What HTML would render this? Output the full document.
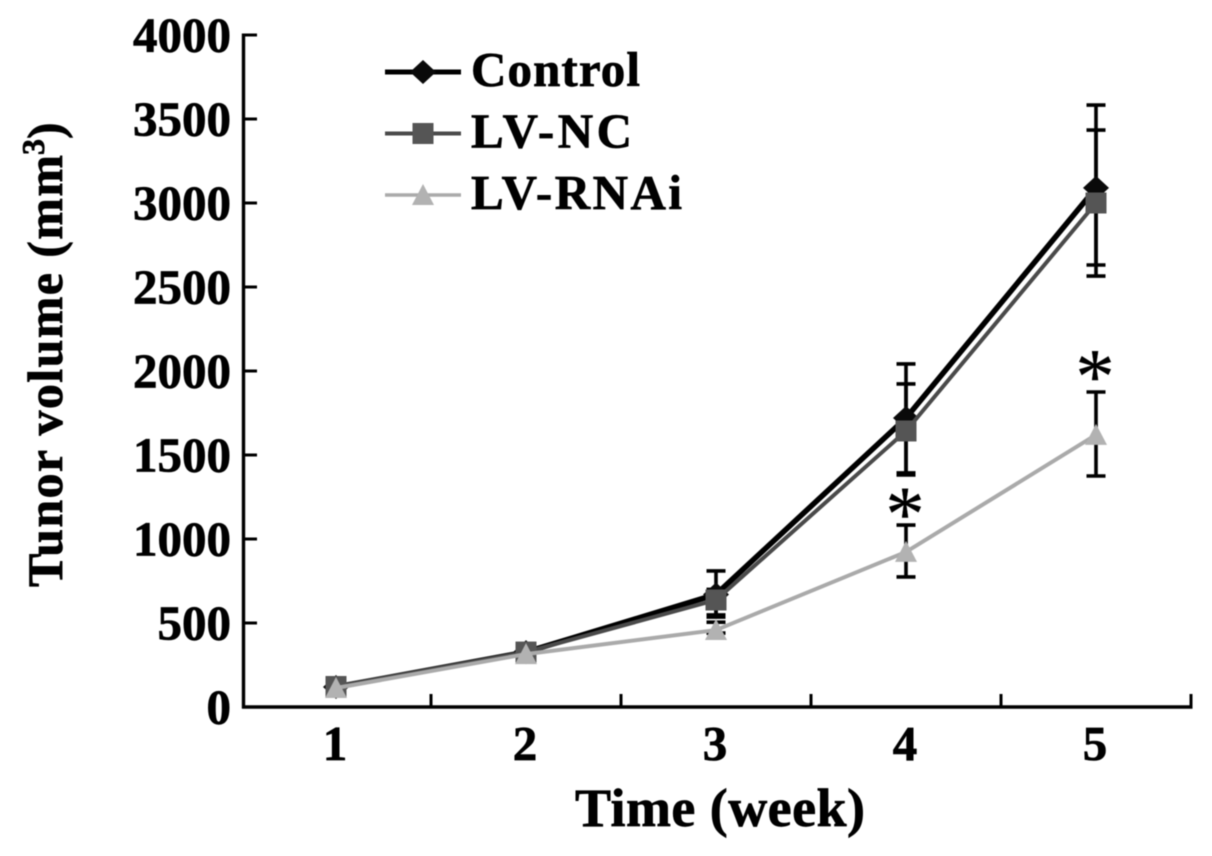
<!DOCTYPE html>
<html lang="en">
<head>
<meta charset="utf-8">
<title>Tumor volume chart</title>
<style>
html,body{margin:0;padding:0;background:#fff;}
svg{display:block;filter:blur(0.4px);}
text{font-family:"Liberation Serif",serif;font-weight:bold;fill:#000;stroke:#000;stroke-width:0.7;}
</style>
</head>
<body>
<svg id="chart" width="1212" height="856" viewBox="0 0 1212 856" xmlns="http://www.w3.org/2000/svg">
<rect width="1212" height="856" fill="#fff"/>
<g id="errors"></g>
<g id="axes"></g>
<g id="series"></g>
<g id="labels"></g>
<g id="legend"></g>
<text x="575" y="826" font-size="54" textLength="290" lengthAdjust="spacing">Time (week)</text>
<text transform="translate(62,587) rotate(-90)" font-size="50" textLength="432" lengthAdjust="spacing">Tunor volume (mm</text>
<text transform="translate(44,155) rotate(-90)" font-size="32">3</text>
<text transform="translate(62,139) rotate(-90)" font-size="50">)</text>
</svg>
<script>
const categories = ['1', '2', '3', '4', '5'];
const yTicks = [0, 500, 1000, 1500, 2000, 2500, 3000, 3500, 4000];

const controlValues = [119, 327, 670, 1720, 3090];
const ncValues = [122, 327, 637, 1643, 3000];
const rnaiValues = [113, 315, 458, 923, 1620];

const controlUpper = [119, 327, 810, 2042, 3583];
const controlLower = [119, 327, 548, 1381, 2565];
const ncUpper = [122, 327, 700, 1923, 3434];
const ncLower = [122, 327, 535, 1393, 2631];
const rnaiUpper = [113, 315, 505, 1083, 1875];
const rnaiLower = [113, 315, 440, 774, 1375];

const significantWeeks = ['4', '5'];
const significantLevels = [1190, 2010];

const legendLabels = ['Control', 'LV-NC', 'LV-RNAi'];

const NS = 'http://www.w3.org/2000/svg';
function xScale(i) { return 336 + 190 * i; }
function yScale(v) { return 707 - v * 0.168; }
function make(parent, tag, attrs) {
  const el = document.createElementNS(NS, tag);
  for (const k in attrs) el.setAttribute(k, attrs[k]);
  parent.appendChild(el);
  return el;
}
const axes = document.getElementById('axes');
const labels = document.getElementById('labels');
const seriesG = document.getElementById('series');
const errors = document.getElementById('errors');
const legend = document.getElementById('legend');

const yAxis = make(axes, 'line', {x1: 243.5, x2: 243.5, y1: yScale(4000) - 1.5, y2: yScale(0) + 1.5, stroke: '#000', 'stroke-width': 3.4});


const xAxis = make(axes, 'line', {x1: 242, x2: xScale(4.5) + 1.5, y1: yScale(0), y2: yScale(0), stroke: '#000', 'stroke-width': 3.4});



yTicks.forEach(function (t) {
  const tick = make(axes, 'line', {x1: 243.5, x2: 257, y1: yScale(t), y2: yScale(t), stroke: '#000', 'stroke-width': 3});
  
  
  const lab = make(labels, 'text', {x: 231, y: yScale(t) + 16.5, 'text-anchor': 'end', 'font-size': 49});
  
  
  lab.textContent = t;
});

categories.forEach(function (c, i) {
  const tick = make(axes, 'line', {x1: xScale(i + 0.5), x2: xScale(i + 0.5), y1: yScale(0), y2: yScale(0) - 13, stroke: '#000', 'stroke-width': 3});
  
  
  const lab = make(labels, 'text', {x: xScale(i) - 1, y: 760, 'text-anchor': 'middle', 'font-size': 49});
  
  
  lab.textContent = c;
});

function drawErrors(upper, lower, name) {
  categories.forEach(function (c, i) {
    if (upper[i] === lower[i]) return;
    const x = xScale(i);
    const bar = make(errors, 'path', {
      d: 'M' + x + ' ' + yScale(upper[i]) + 'V' + yScale(lower[i]) +
         'M' + (x - 9.5) + ' ' + yScale(upper[i]) + 'H' + (x + 9.5) +
         'M' + (x - 9.5) + ' ' + yScale(lower[i]) + 'H' + (x + 9.5),
      stroke: '#000', 'stroke-width': 3.6, fill: 'none'
    });
    
    
  });
}
drawErrors(controlUpper, controlLower, 'control');
drawErrors(ncUpper, ncLower, 'lv-nc');
drawErrors(rnaiUpper, rnaiLower, 'lv-rnai');

function marker(parent, kind, x, y, color) {
  if (kind === 'diamond') {
    return make(parent, 'polygon', {points: (x - 13) + ',' + y + ' ' + x + ',' + (y - 12) + ' ' + (x + 13) + ',' + y + ' ' + x + ',' + (y + 12), fill: color});
  }
  if (kind === 'square') {
    return make(parent, 'rect', {x: x - 10.5, y: y - 10.5, width: 21, height: 21, fill: color});
  }
  return make(parent, 'polygon', {points: (x - 11) + ',' + (y + 10) + ' ' + x + ',' + (y - 11) + ' ' + (x + 11) + ',' + (y + 10), fill: color});
}

function drawSeries(values, kind, lineColor, markerColor, width, name) {
  const pts = values.map(function (v, i) { return xScale(i) + ',' + yScale(v); }).join(' ');
  const line = make(seriesG, 'polyline', {points: pts, fill: 'none', stroke: lineColor, 'stroke-width': width, 'stroke-linejoin': 'round'});
  
  
  values.forEach(function (v, i) {
    const m = marker(seriesG, kind, xScale(i), yScale(v), markerColor);
    
    
  });
}
drawSeries(controlValues, 'diamond', '#000', '#0a0a0a', 5.5, 'control');
drawSeries(ncValues, 'square', '#4a4a4a', '#555', 4, 'lv-nc');
drawSeries(rnaiValues, 'triangle', '#aaa', '#b2b2b2', 4, 'lv-rnai');

significantWeeks.forEach(function (w, n) {
  const star = make(labels, 'text', {x: xScale(categories.indexOf(w)) - 1, y: yScale(significantLevels[n]) + 33, 'text-anchor': 'middle', 'font-size': 78, style: 'font-weight:normal;stroke-width:0.4'});
  
  
  star.textContent = '*';
});

const legendKinds = ['diamond', 'square', 'triangle'];
const legendColors = ['#000', '#4a4a4a', '#aaa'];
const legendMarks = ['#0a0a0a', '#555', '#b2b2b2'];
const legendWidths = [5, 4, 3.6];
const legendLengths = [169, 161, 211];
legendLabels.forEach(function (name, i) {
  const y = 72 + i * 61.5;
  const ln = make(legend, 'line', {x1: 385, x2: 461, y1: y, y2: y, stroke: legendColors[i], 'stroke-width': legendWidths[i]});
  
  
  const m = marker(legend, legendKinds[i], 423, y, legendMarks[i]);
  
  
  const t = make(legend, 'text', {x: 471, y: y + 14, 'font-size': 49, textLength: legendLengths[i], lengthAdjust: 'spacing'});
  
  
  t.textContent = name;
});
</script>
</body>
</html>
